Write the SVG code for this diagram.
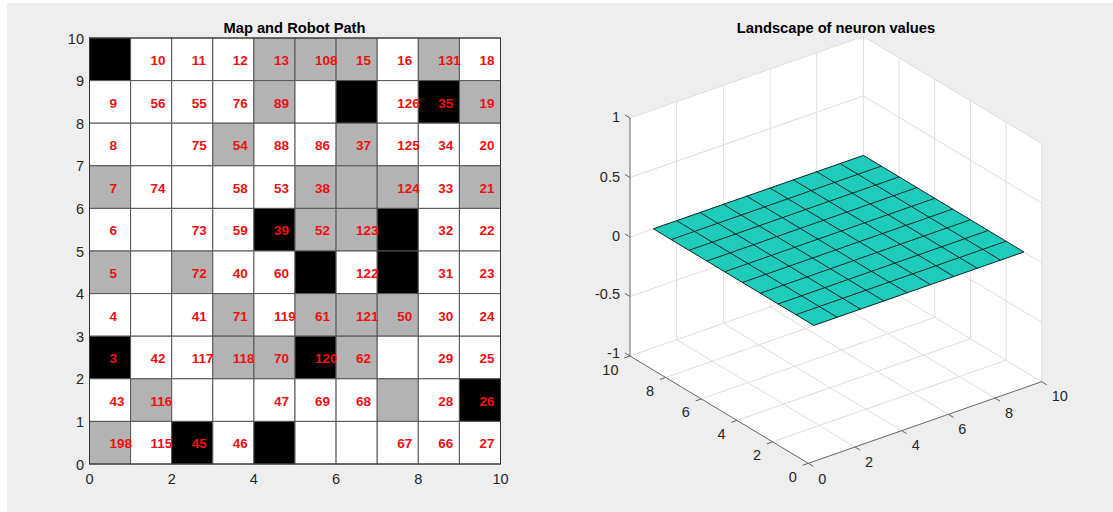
<svg xmlns="http://www.w3.org/2000/svg" width="1113" height="512" viewBox="0 0 1113 512">
<style>
.w{fill:#ffffff;stroke:#555555;stroke-width:1}
.g{fill:#b3b3b3;stroke:#555555;stroke-width:1}
.k{fill:#000000;stroke:#555555;stroke-width:1}
.n{font-family:"Liberation Sans",Arial,sans-serif;font-weight:bold;font-size:13.5px;fill:#f01010}
.t{font-family:"Liberation Sans",Arial,sans-serif;font-weight:bold;font-size:14.7px;fill:#000000;text-anchor:middle}
.tk{font-family:"Liberation Sans",Arial,sans-serif;font-size:14.5px;fill:#262626}
.grid{stroke:#dedede;stroke-width:1;fill:none}
.ax{stroke:#666666;stroke-width:1;fill:none}
.wall{fill:#ffffff;stroke:none}
.mesh{stroke:#0d2a2a;stroke-width:1;fill:none}
</style>
<rect x="0" y="0" width="1113" height="512" fill="#ffffff"/>
<rect x="7" y="3" width="1106" height="509" fill="#eeeeee"/>

<!-- Left plot: Map and Robot Path -->
<g id="map">
<text class="t" x="294.5" y="33">Map and Robot Path</text>
<g id="cells">
<rect class="k" x="89.5" y="38" width="41.1" height="42.6"/>
<rect class="w" x="130.6" y="38" width="41.1" height="42.6"/>
<rect class="w" x="171.7" y="38" width="41.1" height="42.6"/>
<rect class="w" x="212.8" y="38" width="41.1" height="42.6"/>
<rect class="g" x="253.9" y="38" width="41.1" height="42.6"/>
<rect class="g" x="295.0" y="38" width="41.1" height="42.6"/>
<rect class="g" x="336.1" y="38" width="41.1" height="42.6"/>
<rect class="w" x="377.2" y="38" width="41.1" height="42.6"/>
<rect class="g" x="418.3" y="38" width="41.1" height="42.6"/>
<rect class="w" x="459.4" y="38" width="41.1" height="42.6"/>

<rect class="w" x="89.5" y="80.6" width="41.1" height="42.6"/>
<rect class="w" x="130.6" y="80.6" width="41.1" height="42.6"/>
<rect class="w" x="171.7" y="80.6" width="41.1" height="42.6"/>
<rect class="w" x="212.8" y="80.6" width="41.1" height="42.6"/>
<rect class="g" x="253.9" y="80.6" width="41.1" height="42.6"/>
<rect class="w" x="295.0" y="80.6" width="41.1" height="42.6"/>
<rect class="k" x="336.1" y="80.6" width="41.1" height="42.6"/>
<rect class="w" x="377.2" y="80.6" width="41.1" height="42.6"/>
<rect class="k" x="418.3" y="80.6" width="41.1" height="42.6"/>
<rect class="g" x="459.4" y="80.6" width="41.1" height="42.6"/>

<rect class="w" x="89.5" y="123.2" width="41.1" height="42.6"/>
<rect class="w" x="130.6" y="123.2" width="41.1" height="42.6"/>
<rect class="w" x="171.7" y="123.2" width="41.1" height="42.6"/>
<rect class="g" x="212.8" y="123.2" width="41.1" height="42.6"/>
<rect class="w" x="253.9" y="123.2" width="41.1" height="42.6"/>
<rect class="w" x="295.0" y="123.2" width="41.1" height="42.6"/>
<rect class="g" x="336.1" y="123.2" width="41.1" height="42.6"/>
<rect class="w" x="377.2" y="123.2" width="41.1" height="42.6"/>
<rect class="w" x="418.3" y="123.2" width="41.1" height="42.6"/>
<rect class="w" x="459.4" y="123.2" width="41.1" height="42.6"/>

<rect class="g" x="89.5" y="165.8" width="41.1" height="42.6"/>
<rect class="w" x="130.6" y="165.8" width="41.1" height="42.6"/>
<rect class="w" x="171.7" y="165.8" width="41.1" height="42.6"/>
<rect class="w" x="212.8" y="165.8" width="41.1" height="42.6"/>
<rect class="w" x="253.9" y="165.8" width="41.1" height="42.6"/>
<rect class="g" x="295.0" y="165.8" width="41.1" height="42.6"/>
<rect class="g" x="336.1" y="165.8" width="41.1" height="42.6"/>
<rect class="g" x="377.2" y="165.8" width="41.1" height="42.6"/>
<rect class="w" x="418.3" y="165.8" width="41.1" height="42.6"/>
<rect class="g" x="459.4" y="165.8" width="41.1" height="42.6"/>

<rect class="w" x="89.5" y="208.4" width="41.1" height="42.6"/>
<rect class="w" x="130.6" y="208.4" width="41.1" height="42.6"/>
<rect class="w" x="171.7" y="208.4" width="41.1" height="42.6"/>
<rect class="w" x="212.8" y="208.4" width="41.1" height="42.6"/>
<rect class="k" x="253.9" y="208.4" width="41.1" height="42.6"/>
<rect class="g" x="295.0" y="208.4" width="41.1" height="42.6"/>
<rect class="g" x="336.1" y="208.4" width="41.1" height="42.6"/>
<rect class="k" x="377.2" y="208.4" width="41.1" height="42.6"/>
<rect class="w" x="418.3" y="208.4" width="41.1" height="42.6"/>
<rect class="w" x="459.4" y="208.4" width="41.1" height="42.6"/>

<rect class="g" x="89.5" y="251" width="41.1" height="42.6"/>
<rect class="w" x="130.6" y="251" width="41.1" height="42.6"/>
<rect class="g" x="171.7" y="251" width="41.1" height="42.6"/>
<rect class="w" x="212.8" y="251" width="41.1" height="42.6"/>
<rect class="w" x="253.9" y="251" width="41.1" height="42.6"/>
<rect class="k" x="295.0" y="251" width="41.1" height="42.6"/>
<rect class="w" x="336.1" y="251" width="41.1" height="42.6"/>
<rect class="k" x="377.2" y="251" width="41.1" height="42.6"/>
<rect class="w" x="418.3" y="251" width="41.1" height="42.6"/>
<rect class="w" x="459.4" y="251" width="41.1" height="42.6"/>

<rect class="w" x="89.5" y="293.6" width="41.1" height="42.6"/>
<rect class="w" x="130.6" y="293.6" width="41.1" height="42.6"/>
<rect class="w" x="171.7" y="293.6" width="41.1" height="42.6"/>
<rect class="g" x="212.8" y="293.6" width="41.1" height="42.6"/>
<rect class="w" x="253.9" y="293.6" width="41.1" height="42.6"/>
<rect class="g" x="295.0" y="293.6" width="41.1" height="42.6"/>
<rect class="g" x="336.1" y="293.6" width="41.1" height="42.6"/>
<rect class="g" x="377.2" y="293.6" width="41.1" height="42.6"/>
<rect class="w" x="418.3" y="293.6" width="41.1" height="42.6"/>
<rect class="w" x="459.4" y="293.6" width="41.1" height="42.6"/>

<rect class="k" x="89.5" y="336.2" width="41.1" height="42.6"/>
<rect class="w" x="130.6" y="336.2" width="41.1" height="42.6"/>
<rect class="w" x="171.7" y="336.2" width="41.1" height="42.6"/>
<rect class="g" x="212.8" y="336.2" width="41.1" height="42.6"/>
<rect class="g" x="253.9" y="336.2" width="41.1" height="42.6"/>
<rect class="k" x="295.0" y="336.2" width="41.1" height="42.6"/>
<rect class="g" x="336.1" y="336.2" width="41.1" height="42.6"/>
<rect class="w" x="377.2" y="336.2" width="41.1" height="42.6"/>
<rect class="w" x="418.3" y="336.2" width="41.1" height="42.6"/>
<rect class="w" x="459.4" y="336.2" width="41.1" height="42.6"/>

<rect class="w" x="89.5" y="378.8" width="41.1" height="42.6"/>
<rect class="g" x="130.6" y="378.8" width="41.1" height="42.6"/>
<rect class="w" x="171.7" y="378.8" width="41.1" height="42.6"/>
<rect class="w" x="212.8" y="378.8" width="41.1" height="42.6"/>
<rect class="w" x="253.9" y="378.8" width="41.1" height="42.6"/>
<rect class="w" x="295.0" y="378.8" width="41.1" height="42.6"/>
<rect class="w" x="336.1" y="378.8" width="41.1" height="42.6"/>
<rect class="g" x="377.2" y="378.8" width="41.1" height="42.6"/>
<rect class="w" x="418.3" y="378.8" width="41.1" height="42.6"/>
<rect class="k" x="459.4" y="378.8" width="41.1" height="42.6"/>

<rect class="g" x="89.5" y="421.4" width="41.1" height="42.6"/>
<rect class="w" x="130.6" y="421.4" width="41.1" height="42.6"/>
<rect class="k" x="171.7" y="421.4" width="41.1" height="42.6"/>
<rect class="w" x="212.8" y="421.4" width="41.1" height="42.6"/>
<rect class="k" x="253.9" y="421.4" width="41.1" height="42.6"/>
<rect class="w" x="295.0" y="421.4" width="41.1" height="42.6"/>
<rect class="w" x="336.1" y="421.4" width="41.1" height="42.6"/>
<rect class="w" x="377.2" y="421.4" width="41.1" height="42.6"/>
<rect class="w" x="418.3" y="421.4" width="41.1" height="42.6"/>
<rect class="w" x="459.4" y="421.4" width="41.1" height="42.6"/>
<rect x="89.5" y="38" width="411" height="426" fill="none" stroke="#333333" stroke-width="1"/>
</g>
<g id="labels">
<text class="n" x="150.6" y="65">10</text>
<text class="n" x="191.7" y="65">11</text>
<text class="n" x="232.8" y="65">12</text>
<text class="n" x="273.9" y="65">13</text>
<text class="n" x="315" y="65">108</text>
<text class="n" x="356.1" y="65">15</text>
<text class="n" x="397.2" y="65">16</text>
<text class="n" x="438.3" y="65">131</text>
<text class="n" x="479.4" y="65">18</text>

<text class="n" x="109.5" y="107.6">9</text>
<text class="n" x="150.6" y="107.6">56</text>
<text class="n" x="191.7" y="107.6">55</text>
<text class="n" x="232.8" y="107.6">76</text>
<text class="n" x="273.9" y="107.6">89</text>
<text class="n" x="397.2" y="107.6">126</text>
<text class="n" x="438.3" y="107.6">35</text>
<text class="n" x="479.4" y="107.6">19</text>

<text class="n" x="109.5" y="150.2">8</text>
<text class="n" x="191.7" y="150.2">75</text>
<text class="n" x="232.8" y="150.2">54</text>
<text class="n" x="273.9" y="150.2">88</text>
<text class="n" x="315" y="150.2">86</text>
<text class="n" x="356.1" y="150.2">37</text>
<text class="n" x="397.2" y="150.2">125</text>
<text class="n" x="438.3" y="150.2">34</text>
<text class="n" x="479.4" y="150.2">20</text>

<text class="n" x="109.5" y="192.8">7</text>
<text class="n" x="150.6" y="192.8">74</text>
<text class="n" x="232.8" y="192.8">58</text>
<text class="n" x="273.9" y="192.8">53</text>
<text class="n" x="315" y="192.8">38</text>
<text class="n" x="397.2" y="192.8">124</text>
<text class="n" x="438.3" y="192.8">33</text>
<text class="n" x="479.4" y="192.8">21</text>

<text class="n" x="109.5" y="235.4">6</text>
<text class="n" x="191.7" y="235.4">73</text>
<text class="n" x="232.8" y="235.4">59</text>
<text class="n" x="273.9" y="235.4">39</text>
<text class="n" x="315" y="235.4">52</text>
<text class="n" x="356.1" y="235.4">123</text>
<text class="n" x="438.3" y="235.4">32</text>
<text class="n" x="479.4" y="235.4">22</text>

<text class="n" x="109.5" y="278">5</text>
<text class="n" x="191.7" y="278">72</text>
<text class="n" x="232.8" y="278">40</text>
<text class="n" x="273.9" y="278">60</text>
<text class="n" x="356.1" y="278">122</text>
<text class="n" x="438.3" y="278">31</text>
<text class="n" x="479.4" y="278">23</text>

<text class="n" x="109.5" y="320.6">4</text>
<text class="n" x="191.7" y="320.6">41</text>
<text class="n" x="232.8" y="320.6">71</text>
<text class="n" x="273.9" y="320.6">119</text>
<text class="n" x="315" y="320.6">61</text>
<text class="n" x="356.1" y="320.6">121</text>
<text class="n" x="397.2" y="320.6">50</text>
<text class="n" x="438.3" y="320.6">30</text>
<text class="n" x="479.4" y="320.6">24</text>

<text class="n" x="109.5" y="363.2">3</text>
<text class="n" x="150.6" y="363.2">42</text>
<text class="n" x="191.7" y="363.2">117</text>
<text class="n" x="232.8" y="363.2">118</text>
<text class="n" x="273.9" y="363.2">70</text>
<text class="n" x="315" y="363.2">120</text>
<text class="n" x="356.1" y="363.2">62</text>
<text class="n" x="438.3" y="363.2">29</text>
<text class="n" x="479.4" y="363.2">25</text>

<text class="n" x="109.5" y="405.8">43</text>
<text class="n" x="150.6" y="405.8">116</text>
<text class="n" x="273.9" y="405.8">47</text>
<text class="n" x="315" y="405.8">69</text>
<text class="n" x="356.1" y="405.8">68</text>
<text class="n" x="438.3" y="405.8">28</text>
<text class="n" x="479.4" y="405.8">26</text>

<text class="n" x="109.5" y="448.4">198</text>
<text class="n" x="150.6" y="448.4">115</text>
<text class="n" x="191.7" y="448.4">45</text>
<text class="n" x="232.8" y="448.4">46</text>
<text class="n" x="397.2" y="448.4">67</text>
<text class="n" x="438.3" y="448.4">66</text>
<text class="n" x="479.4" y="448.4">27</text>
</g>
<g id="map-ticks" class="tk">
<g text-anchor="end">
<text x="84" y="43.5">10</text>
<text x="84" y="86.1">9</text>
<text x="84" y="128.7">8</text>
<text x="84" y="171.3">7</text>
<text x="84" y="213.9">6</text>
<text x="84" y="256.5">5</text>
<text x="84" y="299.1">4</text>
<text x="84" y="341.7">3</text>
<text x="84" y="384.3">2</text>
<text x="84" y="426.9">1</text>
<text x="84" y="469.5">0</text>
</g>
<g text-anchor="middle">
<text x="89.5" y="483.5">0</text>
<text x="171.7" y="483.5">2</text>
<text x="253.9" y="483.5">4</text>
<text x="336.1" y="483.5">6</text>
<text x="418.3" y="483.5">8</text>
<text x="500.5" y="483.5">10</text>
</g>
</g>
</g>

<!-- Right plot: Landscape of neuron values -->
<g id="landscape">
<text class="t" x="836" y="33">Landscape of neuron values</text>
<g id="walls">
<polygon class="wall" points="630,118 863.4,36.4 863.4,274.4 630,356"/>
<polygon class="wall" points="863.4,36.4 1041.7,143.7 1041.7,381.7 863.4,274.4"/>
<polygon class="wall" points="630,356 863.4,274.4 1041.7,381.7 808.3,463.3"/>
</g>
<g id="gridlines" class="grid">
<path d="M676.68,339.68V101.68M723.36,323.36V85.36M770.04,307.04V69.04M816.72,290.72V52.72M863.4,274.4V36.4"/>
<path d="M630,296.5L863.4,214.9M630,237L863.4,155.4M630,177.5L863.4,95.9M630,118L863.4,36.4"/>
<path d="M1041.7,381.7V143.7M1006.04,360.24V122.24M970.38,338.78V100.78M934.72,317.32V79.32M899.06,295.86V57.86"/>
<path d="M863.4,214.9L1041.7,322.2M863.4,155.4L1041.7,262.7M863.4,95.9L1041.7,203.2M863.4,36.4L1041.7,143.7"/>
<path d="M854.98,446.98L676.68,339.68M901.66,430.66L723.36,323.36M948.34,414.34L770.04,307.04M995.02,398.02L816.72,290.72M1041.7,381.7L863.4,274.4"/>
<path d="M772.64,441.84L1006.04,360.24M736.98,420.38L970.38,338.78M701.32,398.92L934.72,317.32M665.66,377.46L899.06,295.86M630,356L863.4,274.4"/>
</g>
<g id="axes3d" class="ax">
<path d="M630,118V356L808.3,463.3L1041.7,381.7"/>
<path d="M630,118l-5.1,-3.1M630,177.5l-5.1,-3.1M630,237l-5.1,-3.1M630,296.5l-5.1,-3.1M630,356l-5.1,-3.1"/>
<path d="M630,356l-5.7,2M665.66,377.46l-5.7,2M701.32,398.92l-5.7,2M736.98,420.38l-5.7,2M772.64,441.84l-5.7,2M808.3,463.3l-5.7,2"/>
<path d="M808.3,463.3l5.1,3.1M854.98,446.98l5.1,3.1M901.66,430.66l5.1,3.1M948.34,414.34l5.1,3.1M995.02,398.02l5.1,3.1M1041.7,381.7l5.1,3.1"/>
</g>
<g id="surface">
<polygon points="813.81,325.41 1023.87,251.97 863.4,155.4 653.34,228.84" fill="#1fcbbb"/>
<path class="mesh" d="M813.81,325.41L653.34,228.84M837.15,317.25L676.68,220.68M860.49,309.09L700.02,212.52M883.83,300.93L723.36,204.36M907.17,292.77L746.7,196.2M930.51,284.61L770.04,188.04M953.85,276.45L793.38,179.88M977.19,268.29L816.72,171.72M1000.53,260.13L840.06,163.56M1023.87,251.97L863.4,155.4"/>
<path class="mesh" d="M813.81,325.41L1023.87,251.97M795.98,314.68L1006.04,241.24M778.15,303.95L988.21,230.51M760.32,293.22L970.38,219.78M742.49,282.49L952.55,209.05M724.66,271.76L934.72,198.32M706.83,261.03L916.89,187.59M689,250.3L899.06,176.86M671.17,239.57L881.23,166.13M653.34,228.84L863.4,155.4"/>
</g>
<g id="landscape-ticks" class="tk">
<g text-anchor="end">
<text x="620" y="122">1</text>
<text x="620" y="181.5">0.5</text>
<text x="620" y="241">0</text>
<text x="620" y="298.5">-0.5</text>
<text x="620" y="357.5">-1</text>
<text x="618.5" y="374.5">10</text>
<text x="654.2" y="396">8</text>
<text x="689.8" y="417.4">6</text>
<text x="725.5" y="438.9">4</text>
<text x="761.1" y="460.3">2</text>
<text x="796.8" y="481.8">0</text>
</g>
<g text-anchor="start">
<text x="818.3" y="483.5">0</text>
<text x="865" y="466.5">2</text>
<text x="911.7" y="450.2">4</text>
<text x="958.3" y="433.8">6</text>
<text x="1005" y="417.5">8</text>
<text x="1051.7" y="401.2">10</text>
</g>
</g>
</g>
</svg>
